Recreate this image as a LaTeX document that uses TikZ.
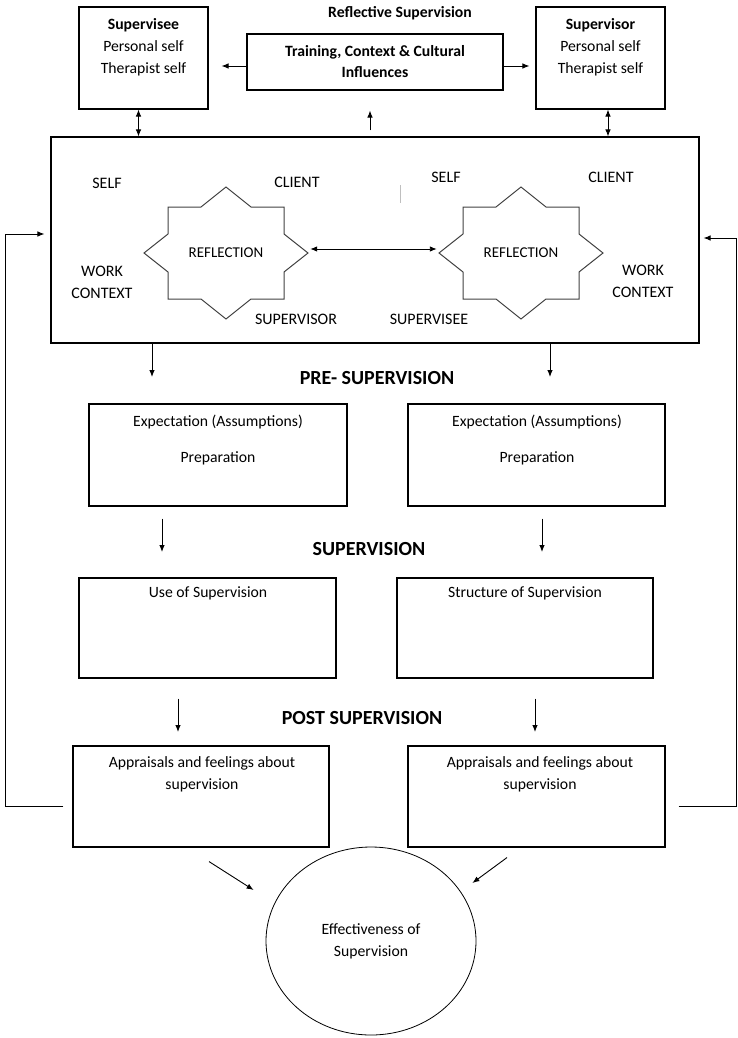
\documentclass[tikz,border=0pt]{standalone}
\usepackage{fontspec}
\setmainfont{Carlito}
\usetikzlibrary{shapes.geometric,arrows.meta,positioning}

\begin{document}
\begin{tikzpicture}[x=1pt,y=-1pt,
    box/.style={draw,line width=1.1pt,inner sep=0pt},
    txt/.style={font=\fontsize{15.7}{22}\selectfont,align=center,inner sep=0pt},
    lbl/.style={font=\fontsize{16}{22}\selectfont,align=center,inner sep=0pt},
    hd/.style={font=\fontsize{20}{22}\selectfont\bfseries,inner sep=0pt},
    arr/.style={-{Latex[length=7pt,width=5.5pt]},line width=0.9pt},
    dar/.style={{Latex[length=7pt,width=5.5pt]}-{Latex[length=7pt,width=5.5pt]},line width=0.9pt}]
    \useasboundingbox(0,0)rectangle(738,1038);
    % top row
    \node[box,minimum width=129,minimum height=102](sve)at(143.5,58){};
    \node[txt](svet)at(143.5,47){\textbf{Supervisee}\\Personal self\\Therapist self};
    \node[box,minimum width=129,minimum height=102](svr)at(600.5,58){};
    \node[txt](svrt)at(600.5,47){\textbf{Supervisor}\\Personal self\\Therapist self};
    \node[txt,font=\fontsize{15.7}{22}\selectfont\bfseries](rsv)at(400,13){Reflective Supervision};
    \node[box,minimum width=256,minimum height=56,txt,font=\fontsize{15.7}{21}\selectfont\bfseries](trn)
        at(375,62){Training, Context \& Cultural\\Influences};
    \node[box,minimum width=648,minimum height=206](main)at(375,240){};
    \draw[arr]([yshift=-4]trn.west)--([xshift=13,yshift=-4]trn.west-|sve.east);
    \draw[arr]([yshift=-4]trn.east)--([xshift=-6,yshift=-4]trn.east-|svr.west);
    \draw[dar]([xshift=-5]sve.south)--([xshift=-5]sve.south|-main.north);
    \draw[dar]([xshift=7.5]svr.south)--([xshift=7.5]svr.south|-main.north);
    \draw[arr]([xshift=-5,yshift=6]main.north)--([xshift=-5,yshift=-20]trn.south);
    % reflection stars
    \node[lbl,font=\fontsize{15}{22}\selectfont,minimum width=164](lr)at(226,253){REFLECTION};
    \node[lbl,font=\fontsize{15}{22}\selectfont,minimum width=164](rr)at(521,253){REFLECTION};
    \foreach \n in {lr,rr}
        \draw[black!75,line width=1pt,shift={(\n.center)}](0,-66)--(25,-46)--(58,-46)--(58,-19)--(82,0)
            --(58,19)--(58,46)--(25,46)--(0,66)--(-25,46)--(-58,46)--(-58,19)--(-82,0)--(-58,-19)
            --(-58,-46)--(-25,-46)--cycle;
    \draw[dar]([xshift=2,yshift=4]lr.east)--([xshift=-2,yshift=4]rr.west);
    \node[lbl](s1)at(107,183){SELF};
    \node[lbl](c1)at(297,182){CLIENT};
    \node[lbl](w1)at(102,282){WORK\\CONTEXT};
    \node[lbl](v1)at(296,319){SUPERVISOR};
    \node[lbl](s2)at(446,177){SELF};
    \node[lbl](c2)at(611,177){CLIENT};
    \node[lbl](w2)at(643,281){WORK\\CONTEXT};
    \node[lbl](v2)at(429,319){SUPERVISEE};
    \draw[black!25,line width=1pt](400,185)--(400,203);
    % pre-supervision
    \coordinate(p1)at(152,377);
    \coordinate(p2)at(550,377);
    \draw[arr](main.south-|p1)--(p1);
    \draw[arr](main.south-|p2)--(p2);
    \node[hd](pre)at(377,378){PRE- SUPERVISION};
    \node[box,minimum width=258,minimum height=102](ex1)at(218,455){};
    \node[box,minimum width=257,minimum height=102](ex2)at(536.5,455){};
    \node[txt](ex1t)at(218,440){Expectation (Assumptions)\\[14pt]Preparation};
    \node[txt](ex2t)at(537,440){Expectation (Assumptions)\\[14pt]Preparation};
    % supervision
    \coordinate(q1)at(162,552);
    \coordinate(q2)at(542,552);
    \draw[arr]([yshift=-12]ex1.south-|q1)--(q1);
    \draw[arr]([yshift=-12]ex2.south-|q2)--(q2);
    \node[hd](sup)at(369,549){SUPERVISION};
    \node[box,minimum width=257,minimum height=100](use)at(207.5,628){};
    \node[box,minimum width=256,minimum height=100](str)at(525,628){};
    \node[txt](uset)at(208,593){Use of Supervision};
    \node[txt](strt)at(525,593){Structure of Supervision};
    % post supervision
    \coordinate(r1)at(178,732);
    \coordinate(r2)at(535,732);
    \draw[arr]([yshift=-20]use.south-|r1)--(r1);
    \draw[arr]([yshift=-20]str.south-|r2)--(r2);
    \node[hd](post)at(362,718){POST SUPERVISION};
    \node[box,minimum width=256,minimum height=101](ap1)at(201,796.5){};
    \node[box,minimum width=257,minimum height=101](ap2)at(536.5,796.5){};
    \node[txt](ap1t)at(202,774){Appraisals and feelings about\\supervision};
    \node[txt](ap2t)at(540,774){Appraisals and feelings about\\supervision};
    % feedback loops
    \draw[arr]([xshift=-9,yshift=-9.5]ap1.west)-|([xshift=-45,yshift=6]main.west)--([xshift=-6,yshift=6]main.west);
    \draw[arr]([xshift=13,yshift=-9.5]ap2.east)-|([xshift=37,yshift=2]main.east)--([xshift=4,yshift=2]main.east);
    % effectiveness
    \node[draw,ellipse,line width=0.8pt,minimum width=210,minimum height=188,txt](eff)at(371,941){Effectiveness of\\Supervision};
    \draw[arr]([xshift=8,yshift=-14]ap1.south)--([xshift=-12,yshift=51]eff.west);
    \draw[arr]([xshift=-29.5,yshift=-10]ap2.south)--([xshift=-4,yshift=58]eff.east);
\end{tikzpicture}
\end{document}
